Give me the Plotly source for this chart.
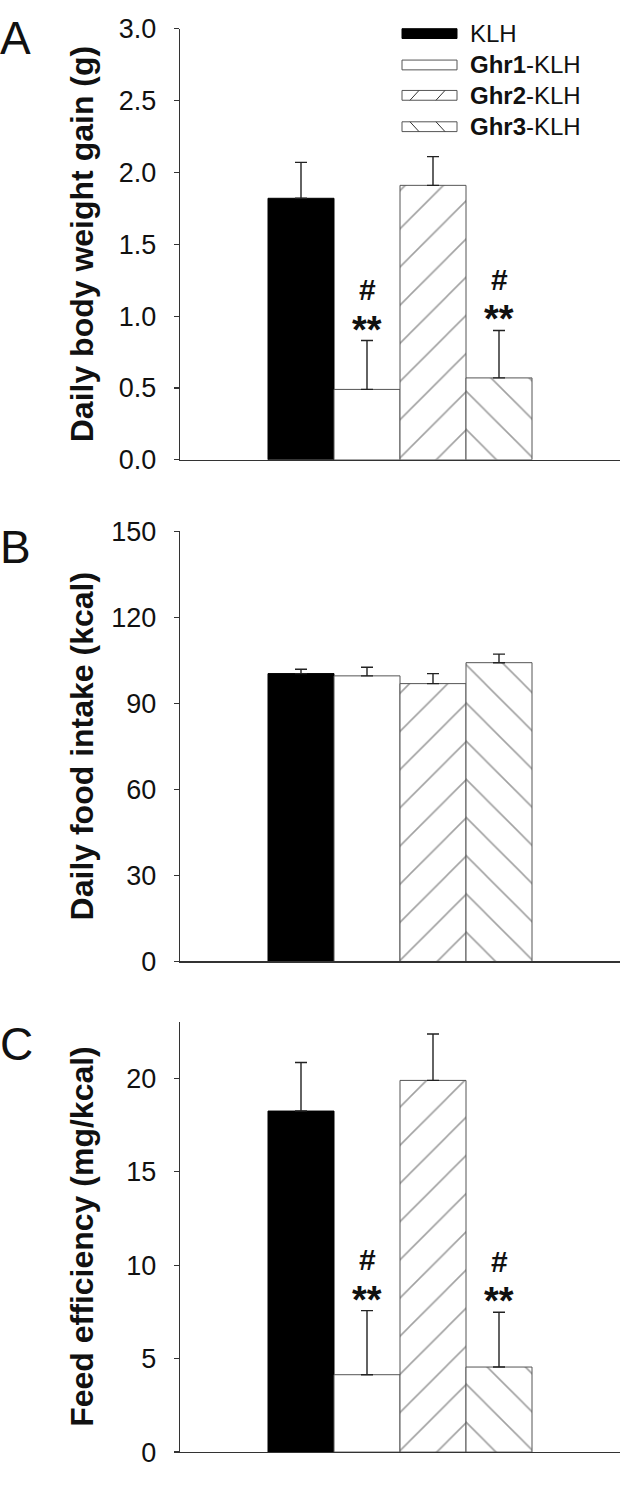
import plotly.graph_objects as go

groups = ["KLH", "Ghr1-KLH", "Ghr2-KLH", "Ghr3-KLH"]
legend_html = ["KLH", "<b>Ghr1</b>-KLH", "<b>Ghr2</b>-KLH", "<b>Ghr3</b>-KLH"]

weight_gain = [1.82, 0.49, 1.91, 0.57]
weight_gain_err = [0.25, 0.34, 0.20, 0.33]

food_intake = [100.4, 99.6, 96.9, 104.2]
food_intake_err = [1.5, 3.0, 3.5, 3.0]

feed_eff = [18.25, 4.14, 19.89, 4.55]
feed_eff_err = [2.6, 3.43, 2.48, 2.93]

sig_marks = ["", "#", "", "#"]
sig_stars = ["", "**", "", "**"]

panel_letters = ["A", "B", "C"]
y_titles = ["Daily body weight gain (g)", "Daily food intake (kcal)", "Feed efficiency (mg/kcal)"]
y_ranges = [[0, 3.0], [0, 150], [0, 23.04]]
y_dticks = [0.5, 30, 5]
y_formats = [".1f", "d", "d"]

W, H = 623, 1485
x_dom = [180 / W, 620 / W]
# pixel extents (top, bottom) of each panel
panels_px = [(14, 454), (527, 966), (1027.3, 1466.7)]
letter_tops = [-5, 514, 1022]

fills = ["black", "white", "white", "white"]
shapes_pat = ["", "", "/", "\\"]
outline = ["black", "#555", "#555", "#555"]

fig = go.Figure()
datasets = [(weight_gain, weight_gain_err), (food_intake, food_intake_err), (feed_eff, feed_eff_err)]
FONT = "Liberation Sans, Arial, sans-serif"

for i, (vals, errs) in enumerate(datasets):
    sfx = "" if i == 0 else str(i + 1)
    fig.add_trace(go.Bar(
        x=[0, 1, 2, 3], y=vals, width=1,
        marker=dict(color=fills, line=dict(color=outline, width=1),
                    pattern=dict(shape=shapes_pat, fgcolor="#111", size=27, solidity=0.06, fillmode="overlay")),
        error_y=dict(type="data", array=errs, arrayminus=[0] * 4, symmetric=False,
                     color="#222", thickness=1.4, width=6),
        xaxis="x" + sfx, yaxis="y" + sfx, showlegend=False, hoverinfo="skip",
    ))
    top, bot = panels_px[i]
    dom = [1 - bot / H, 1 - top / H]
    fig.layout["xaxis" + sfx] = dict(domain=x_dom, range=[-1.8333, 4.8333], showticklabels=False,
                                    ticks="", showgrid=False, zeroline=False, showline=True,
                                    linecolor="#333", linewidth=1.4, anchor="y" + sfx, fixedrange=True)
    fig.layout["yaxis" + sfx] = dict(domain=dom, range=y_ranges[i], dtick=y_dticks[i], tick0=0,
                                    tickformat=y_formats[i], ticks="outside", ticklen=5, tickwidth=1.2,
                                    tickcolor="#333", showline=True, linecolor="#333", linewidth=1.4,
                                    showgrid=False, zeroline=False, anchor="x" + sfx,
                                    tickfont=dict(family=FONT, size=27, color="#111"),
                                    ticklabelstandoff=12, fixedrange=True)
    # y title
    fig.add_annotation(text="<b>" + y_titles[i] + "</b>", textangle=-90, xref="paper", yref="paper",
                       x=82 / W, y=1 - (top + bot) / 2 / H, xanchor="center", yanchor="middle",
                       showarrow=False, font=dict(family=FONT, size=32, color="#111"))
    # panel letter
    fig.add_annotation(text=panel_letters[i], xref="paper", yref="paper", x=-2 / W,
                       y=1 - letter_tops[i] / H, xanchor="left", yanchor="top", showarrow=False,
                       font=dict(family=FONT, size=46, color="#111"))
    # significance marks (panels A and C)
    if i != 1:
        for j in range(4):
            if sig_stars[j]:
                tip = vals[j] + errs[j]
                fig.add_annotation(text="<b>" + sig_stars[j] + "</b>", x=j, y=tip, xref="x" + sfx, yref="y" + sfx,
                                   yshift=11, yanchor="middle", showarrow=False,
                                   font=dict(family=FONT, size=38, color="#111"))
                fig.add_annotation(text="<b>" + sig_marks[j] + "</b>", x=j, y=tip, xref="x" + sfx, yref="y" + sfx,
                                   yshift=51, yanchor="middle", showarrow=False,
                                   font=dict(family=FONT, size=30, color="#111"))

# legend (manual)
leg_rows = [19, 51, 82, 114]
shapes = []
for k, yc in enumerate(leg_rows):
    x0, x1 = 402, 457
    h = 5
    y0p, y1p = 1 - (yc + h) / H, 1 - (yc - h) / H
    shapes.append(dict(type="rect", xref="paper", yref="paper", x0=x0 / W, x1=x1 / W, y0=y0p, y1=y1p,
                       fillcolor=fills[k], line=dict(color=outline[k], width=1)))
    if shapes_pat[k]:
        for xs in (410, 436):
            if shapes_pat[k] == "/":
                sx0, sx1, sy0, sy1 = xs, xs + 9, yc + h, yc - h
            else:
                sx0, sx1, sy0, sy1 = xs, xs + 9, yc - h, yc + h
            shapes.append(dict(type="line", xref="paper", yref="paper", x0=sx0 / W, x1=sx1 / W,
                               y0=1 - sy0 / H, y1=1 - sy1 / H, line=dict(color="#333", width=1)))
    fig.add_annotation(text=legend_html[k], xref="paper", yref="paper", x=468 / W, y=1 - yc / H,
                       xanchor="left", yanchor="middle", showarrow=False,
                       font=dict(family=FONT, size=24, color="#111"))

fig.update_layout(width=W, height=H, margin=dict(l=0, r=0, t=0, b=0), plot_bgcolor="white",
                  paper_bgcolor="white", shapes=shapes, bargap=0, showlegend=False)

fig.write_html("out.html", config={"displayModeBar": False, "staticPlot": True},
               post_script="document.body.style.margin='0';document.body.style.overflow='hidden';")
